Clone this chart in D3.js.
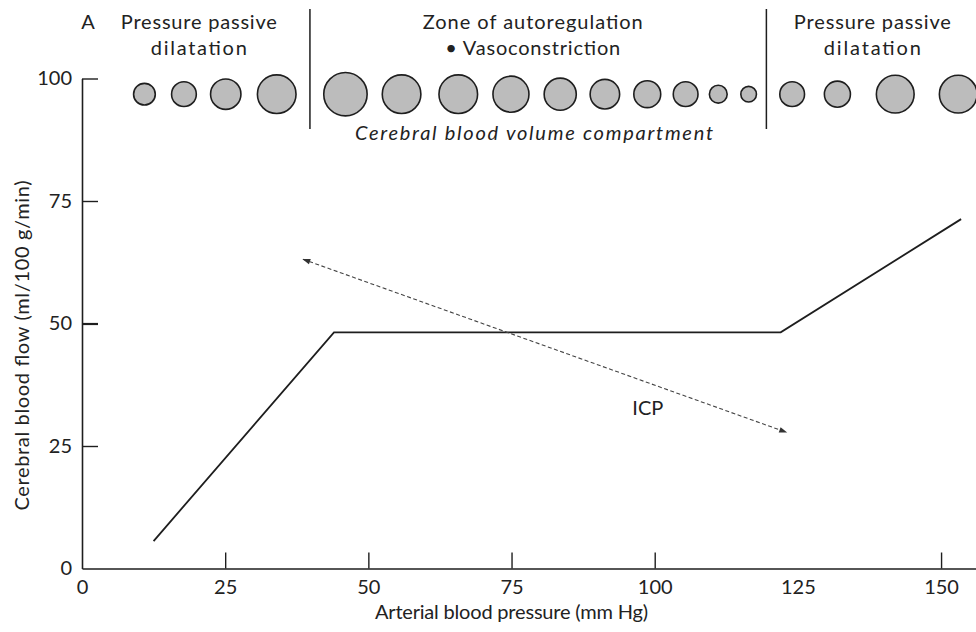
<!DOCTYPE html>
<html><head><meta charset="utf-8">
<script src="https://cdn.jsdelivr.net/npm/d3@7"></script>
<style>
html,body{margin:0;padding:0;background:#fff;}
svg{display:block;}
text{font-family:Lato,"Open Sans",sans-serif;fill:#222;}
</style></head>
<body>
<svg id="chart" width="976" height="632"></svg>
<script>
// ---- data ----
const xTicks = [0, 25, 50, 75, 100, 125, 150];
const xTickLinesHidden = [0, 125];
const yTicks = [0, 25, 50, 75, 100];
const flowPressure = [12.5, 44, 122, 153.5];
const flowValues = [5.6, 48.2, 48.2, 71.3];
const icpPressure = [38.6, 123];
const icpValues = [63.1, 27.8];
const zoneBounds = [39.8, 119.5];
const vesselPressure = [10.9, 17.8, 25.1, 34.0, 46.0, 55.8, 65.7, 74.9, 83.5, 91.3, 98.7, 105.4, 111.1, 116.4, 124.0, 131.9, 142.0, 153.0];
const vesselDiameter = [0.50, 0.57, 0.70, 0.89, 1.0, 0.89, 0.89, 0.83, 0.74, 0.68, 0.62, 0.57, 0.41, 0.36, 0.57, 0.60, 0.87, 0.87];
const vesselLevel = 96.8;
const zoneTitles = [
  {x: 20.4, lines: ["Pressure passive", "dilatation"], widths: [156, 96]},
  {x: 78.7, lines: ["Zone of autoregulation", "• Vasoconstriction"], widths: [220, 175]},
  {x: 138.0, lines: ["Pressure passive", "dilatation"], widths: [157, 97]}
];
const panelLetter = "A";
const compartmentLabel = "Cerebral blood volume compartment";
const icpLabel = "ICP";
const icpLabelAt = [98.8, 31.3];
const xTitle = "Arterial blood pressure (mm Hg)";
const yTitle = "Cerebral blood flow (ml/100 g/min)";

// ---- layout ----
const svg = d3.select("#chart");
const x = d3.scaleLinear().domain([0, 156.1]).range([82, 976]);
const y = d3.scaleLinear().domain([0, 100]).range([568.5, 78.5]);
const r = d3.scaleLinear().domain([0, 1]).range([0, 21.7]);
const ink = "#1e1e1e";
const FS = 20;

// axes
const xAxis = svg.append("g").attr("transform", `translate(0,${y(0)})`)
  .call(d3.axisBottom(x).tickValues(xTicks).tickSizeInner(-16).tickSizeOuter(0).tickPadding(11).tickFormat(d3.format("d")));
xAxis.selectAll(".tick line").filter(d => xTickLinesHidden.includes(d)).remove();
const yAxis = svg.append("g").attr("transform", `translate(${x(0)},0)`)
  .call(d3.axisLeft(y).tickValues(yTicks).tickSizeInner(-16).tickSizeOuter(0).tickPadding(10).tickFormat(d3.format("d")));
yAxis.selectAll(".tick line").filter(d => d === 0).remove();
[xAxis, yAxis].forEach(g => {
  g.select(".domain").attr("stroke", ink).attr("stroke-width", 1.6);
  g.selectAll(".tick line").attr("stroke", ink).attr("stroke-width", 1.4);
  g.selectAll(".tick text").attr("font-size", FS).attr("fill", "#222").style("font-family", "Lato");
});
yAxis.selectAll(".tick line").filter(d => d === 50).attr("stroke-width", 2.2);

// axis titles
svg.append("text").attr("x", 511.5).attr("y", 619)
  .attr("text-anchor", "middle").attr("font-size", FS)
  .attr("textLength", 273).attr("lengthAdjust", "spacing").text(xTitle);
svg.append("text").attr("transform", `translate(29,${(y(0) + y(100)) / 2 + 22}) rotate(-90)`)
  .attr("text-anchor", "middle").attr("font-size", FS)
  .attr("textLength", 330).attr("lengthAdjust", "spacing").text(yTitle);

// zone separators
svg.selectAll("line.sep").data(zoneBounds).join("line").attr("class", "sep")
  .attr("x1", d => x(d)).attr("x2", d => x(d)).attr("y1", 9).attr("y2", 129)
  .attr("stroke", ink).attr("stroke-width", 1.5);

// zone titles
zoneTitles.forEach(z => {
  z.lines.forEach((t, i) => {
    svg.append("text").attr("x", x(z.x)).attr("y", 29 + i * 26)
      .attr("text-anchor", "middle").attr("font-size", FS)
      .attr("textLength", z.widths[i]).attr("lengthAdjust", "spacing").text(t);
  });
});
svg.append("text").attr("x", 88).attr("y", 29).attr("text-anchor", "middle").attr("font-size", FS).text(panelLetter);

// vessels
svg.selectAll("circle.vessel").data(vesselPressure).join("circle").attr("class", "vessel")
  .attr("cx", d => x(d)).attr("cy", y(vesselLevel)).attr("r", (d, i) => r(vesselDiameter[i]))
  .attr("fill", "#bcbcbc").attr("stroke", ink).attr("stroke-width", 1.6);

svg.append("text").attr("x", 534).attr("y", 140).attr("text-anchor", "middle")
  .attr("font-size", FS).attr("font-style", "italic")
  .attr("textLength", 358).attr("lengthAdjust", "spacing").text(compartmentLabel);

// flow curve
const line = d3.line().x(d => x(d[0])).y(d => y(d[1]));
svg.append("path").datum(flowPressure.map((p, i) => [p, flowValues[i]]))
  .attr("d", line).attr("fill", "none").attr("stroke", ink).attr("stroke-width", 1.8)
  .attr("stroke-linejoin", "miter");

// ICP arrow
const defs = svg.append("defs");
defs.append("marker").attr("id", "arr").attr("viewBox", "0 0 10 10").attr("refX", 9).attr("refY", 5)
  .attr("markerWidth", 10).attr("markerHeight", 8).attr("markerUnits", "userSpaceOnUse")
  .attr("orient", "auto-start-reverse")
  .append("path").attr("d", "M0,1.5 L10,5 L0,8.5 Z").attr("fill", "#333");
svg.append("path").datum(icpPressure.map((p, i) => [p, icpValues[i]]))
  .attr("d", line).attr("fill", "none").attr("stroke", "#444").attr("stroke-width", 1.1)
  .attr("stroke-dasharray", "4,2.5")
  .attr("marker-start", "url(#arr)").attr("marker-end", "url(#arr)");
svg.append("text").attr("x", x(icpLabelAt[0])).attr("y", y(icpLabelAt[1]))
  .attr("text-anchor", "middle").attr("font-size", FS).text(icpLabel);
</script>
</body></html>
